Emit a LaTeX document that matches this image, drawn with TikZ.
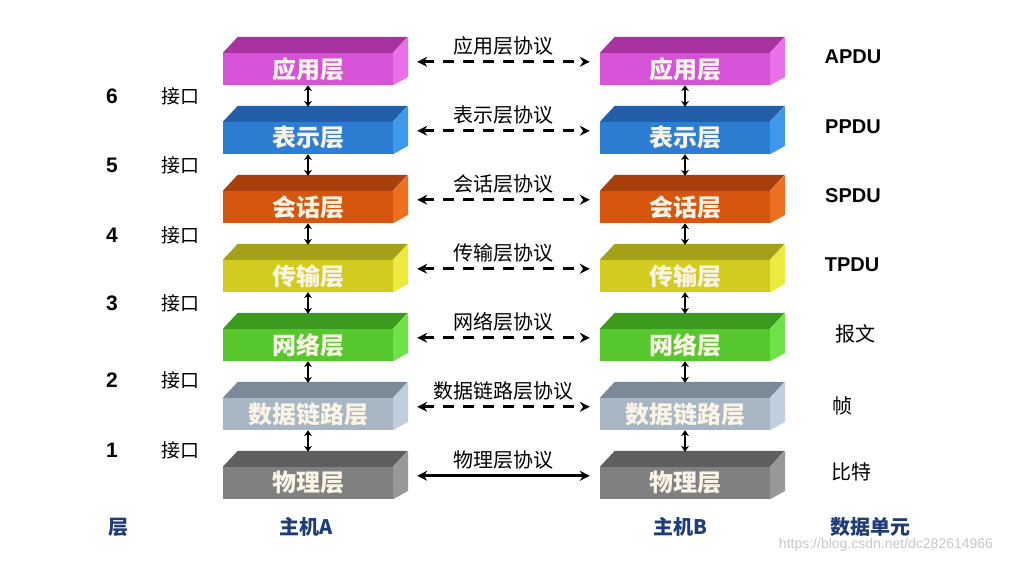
\documentclass[tikz,border=0pt]{standalone}
\usepackage{fontspec}
\setmainfont{Liberation Sans}
\newfontfamily\cjk{Noto Sans CJK SC}
\usetikzlibrary{arrows.meta,positioning,calc}
\definecolor{appF}{RGB}{214,82,214}
\definecolor{appT}{RGB}{168,50,160}
\definecolor{appS}{RGB}{234,112,234}
\definecolor{preF}{RGB}{45,125,210}
\definecolor{preT}{RGB}{35,95,168}
\definecolor{preS}{RGB}{62,152,236}
\definecolor{sesF}{RGB}{214,86,16}
\definecolor{sesT}{RGB}{168,64,14}
\definecolor{sesS}{RGB}{236,112,32}
\definecolor{traF}{RGB}{210,204,32}
\definecolor{traT}{RGB}{164,160,24}
\definecolor{traS}{RGB}{236,234,64}
\definecolor{netF}{RGB}{86,200,46}
\definecolor{netT}{RGB}{60,154,30}
\definecolor{netS}{RGB}{112,226,72}
\definecolor{dlF}{RGB}{168,182,196}
\definecolor{dlT}{RGB}{124,138,152}
\definecolor{dlS}{RGB}{192,206,222}
\definecolor{phyF}{RGB}{128,128,128}
\definecolor{phyT}{RGB}{95,95,95}
\definecolor{phyS}{RGB}{152,152,152}
\definecolor{laytext}{RGB}{250,244,230}
\definecolor{hostblue}{RGB}{30,60,120}
\newcommand{\boxfaces}[2]{%
  \fill[#2T] (#1.north west) -- ++(15,-16) -- ++(170,0) -- ++(-15,16) -- cycle;
  \fill[#2S] (#1.north east) -- ++(15,-16) -- ++(0,40) -- (#1.south east) -- cycle;}
\tikzset{
  lay/.style={minimum width=170pt, minimum height=32pt, inner sep=0pt,
              font=\cjk\bfseries\fontsize{24}{24}\selectfont, text=laytext},
  updn/.style={{Stealth[length=6pt,width=8pt]}-{Stealth[length=6pt,width=8pt]}, line width=2.2pt},
  proto/.style={{Stealth[length=10pt,width=10pt]}-{Stealth[length=10pt,width=10pt]}, line width=3pt},
  plab/.style={font=\cjk\fontsize{20}{20}\selectfont, above=2pt},
  ifc/.style={font=\cjk\fontsize{19}{19}\selectfont},
  num/.style={font=\bfseries\fontsize{21}{21}\selectfont},
  pdu/.style={font=\bfseries\fontsize{20}{20}\selectfont},
  pduc/.style={font=\cjk\fontsize{20}{20}\selectfont},
  host/.style={font=\cjk\bfseries\fontsize{20}{20}\selectfont, text=hostblue},
}
\begin{document}
\begin{tikzpicture}[x=1pt, y=-1pt]
  \useasboundingbox (0,0) rectangle (1017,564);
  % layer blocks, host A and host B
  \foreach \c/\lname [count=\i] in {app/应用层, pre/表示层, ses/会话层, tra/传输层,
                                    net/网络层, dl/数据链路层, phy/物理层} {
    \node[lay, fill=\c F] (L\i) at (308,{69*\i}) {\lname};
    \boxfaces{L\i}{\c}
    \node[lay, fill=\c F] (R\i) at (685,{69*\i}) {\lname};
    \boxfaces{R\i}{\c}
    \ifnum\i<7
      \draw[proto, dash pattern=on 11pt off 9pt] ([xshift=24pt,yshift=-9pt]L\i.north east)
        -- node[plab] {{\lname}协议} ([xshift=-10pt,yshift=-9pt]R\i.north west);
    \else
      \draw[proto] ([xshift=24pt,yshift=-9pt]L\i.north east)
        -- node[plab] {{\lname}协议} ([xshift=-10pt,yshift=-9pt]R\i.north west);
    \fi
  }
  % interfaces between layers
  \foreach \i [evaluate=\i as \j using int(\i+1)] in {1,...,6} {
    \draw[updn] (L\i.south) -- ([yshift=15pt]L\j.north);
    \draw[updn] (R\i.south) -- ([yshift=15pt]R\j.north);
  }
  \foreach \n/\yy in {6/96, 5/165, 4/235, 3/303, 2/380, 1/450} {
    \node[num] (n\n) at (112,\yy) {\n};
    \node[ifc] (if\n) at (180,\yy) {接口};
  }
  % data units
  \node[pdu] (apdu) at (853,57) {APDU};
  \node[pdu] (ppdu) at (853,127) {PPDU};
  \node[pdu] (spdu) at (853,196) {SPDU};
  \node[pdu] (tpdu) at (852,265) {TPDU};
  \node[pduc] (pkt) at (855,334) {报文};
  \node[pduc] (frm) at (842,406) {帧};
  \node[pduc] (bit) at (851,472) {比特};
  % bottom row
  \node[host] (cap1) at (118,527) {层};
  \node[host] (hA) at (306,527) {主机A};
  \node[host] (hB) at (680,527) {主机B};
  \node[host] (cap2) at (870,527) {数据单元};
  \node[text=black!22, font=\fontsize{14}{14}\selectfont] (wm) at (886,545)
       {https://blog.csdn.net/dc282614966};
\end{tikzpicture}
\end{document}
